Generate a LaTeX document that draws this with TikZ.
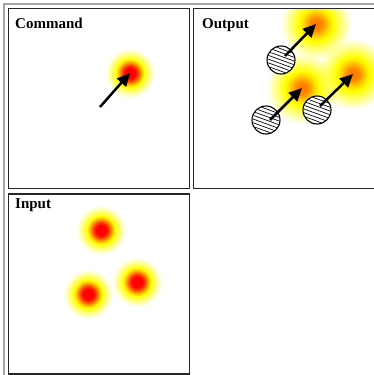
\documentclass[tikz,border=0pt]{standalone}
\usepackage{fontspec}
\setmainfont{Liberation Serif}
\usetikzlibrary{arrows.meta}
\definecolor{inA}{RGB}{255,70,0}
\definecolor{inB}{RGB}{255,170,0}
\definecolor{paleA}{RGB}{255,255,110}
\definecolor{paleB}{RGB}{255,255,200}
\definecolor{outA}{RGB}{255,115,0}
\definecolor{outB}{RGB}{255,135,0}
\definecolor{outC}{RGB}{255,185,0}
\definecolor{outD}{RGB}{255,225,0}
\definecolor{outE}{RGB}{255,255,120}
\definecolor{outF}{RGB}{255,255,215}
\pgfdeclareradialshading{blobin}{\pgfpoint{0bp}{0bp}}{color(0bp)=(red); color(5bp)=(red); color(8bp)=(inA); color(11bp)=(inB); color(14bp)=(yellow); color(18bp)=(paleA); color(22bp)=(paleB); color(25bp)=(white); color(50bp)=(white)}
\pgfdeclareradialshading{blobout}{\pgfpoint{0bp}{0bp}}{color(0bp)=(outA); color(4bp)=(outB); color(7bp)=(outC); color(9.5bp)=(outD); color(12bp)=(yellow); color(17.5bp)=(outE); color(22.5bp)=(outF); color(25bp)=(white); color(50bp)=(white)}
\tikzset{
  cellbox/.style={draw=black!85, line width=1.7pt},
  outerline/.style={draw=black!35, line width=1.5pt},
  celltitle/.style={anchor=base west, inner sep=0pt, font=\fontsize{15}{18}\selectfont\bfseries},
  hatchball/.style={circle, draw=black, line width=1.1pt, fill=white, minimum size=28pt, inner sep=0pt},
  hatchline/.style={draw=black, line width=0.7pt},
  pointer/.style={draw=black, line width=2.5pt, -{Triangle[length=13pt,width=12pt]}},
  blobinshade/.style={shading=blobin, blend mode=multiply},
  bloboutshade/.style={shading=blobout, blend mode=multiply}
}
\begin{document}
\begin{tikzpicture}[x=1pt,y=-1pt]
\clip (0,0) rectangle (374,375);
\fill[white] (0,0) rectangle (374,375);
% blob centres
\coordinate (cmdblob) at (130,73);
\coordinate (outtop) at (316,24);
\coordinate (outmidb) at (302,88);
\coordinate (outright) at (353,74);
\coordinate (intop) at (101,230);
\coordinate (inright) at (137,282);
\coordinate (inleft) at (88,294);
% blobs
\begin{scope}
  \clip (9.5,9.5) rectangle (188.5,187.5);
  \shade[blobinshade] (cmdblob) circle (25);
\end{scope}
\begin{scope}
  \clip (194.5,9.5) rectangle (380,187.5);
  \shade[bloboutshade] (outtop) circle (36);
  \shade[bloboutshade] (outmidb) circle (36);
  \shade[bloboutshade] (outright) circle (36);
\end{scope}
\begin{scope}
  \clip (9.5,195) rectangle (188.5,373);
  \shade[blobinshade] (intop) circle (25);
  \shade[blobinshade] (inright) circle (25);
  \shade[blobinshade] (inleft) circle (25);
\end{scope}
% table lines
\draw[outerline] (4,380) -- (4,4) -- (380,4);
\draw[cellbox] (8.5,8.5) rectangle (189.5,188.5);
\draw[cellbox] (193.5,8.5) rectangle (385,188.5);
\draw[cellbox] (8.5,194) rectangle (189.5,374);
% titles
\node[celltitle] (tcmd) at (15,28) {Command};
\node[celltitle] (tout) at (202,28) {Output};
\node[celltitle] (tin) at (15,208) {Input};
% hatched balls
\foreach \n/\bx/\by in {ballA/281/60, ballB/266/120, ballC/317/110}{
  \node[hatchball] (\n) at (\bx,\by) {};
  \begin{scope}
    \clip (\bx,\by) circle (13.4);
    \begin{scope}[shift={(\bx,\by)}, rotate=-20]
      \foreach \k in {-5,...,5}
        \draw[hatchline] (-20,\k*3.5) -- (20,\k*3.5);
    \end{scope}
  \end{scope}
}
% arrows
\coordinate (cmdstart) at (100,107);
\draw[pointer] (cmdstart) -- (cmdblob);
\draw[pointer] ([shift={(4,-4)}]ballA.center) -- (outtop);
\draw[pointer] ([shift={(4,0)}]ballB.center) -- (outmidb);
\draw[pointer] ([shift={(3,-4)}]ballC.center) -- (outright);
\end{tikzpicture}
\end{document}
